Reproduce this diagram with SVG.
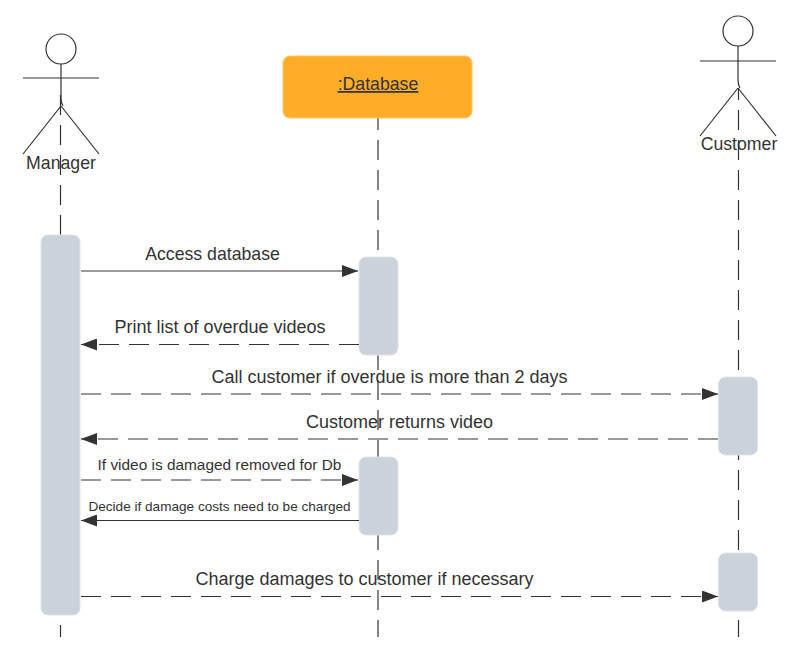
<svg xmlns="http://www.w3.org/2000/svg" width="803" height="665" viewBox="0 0 803 665">
<style>
text{font-family:"Liberation Sans",Arial,sans-serif;fill:#333;text-anchor:middle;font-size:18px}
.n{font-size:17.7px}
.s{font-size:15.4px}
.t{font-size:13.6px}
.actor{fill:none;stroke:#333;stroke-width:1.2}
.head{fill:#fff;stroke:#333;stroke-width:1.2}
.life{fill:none;stroke:#333;stroke-width:1.2;stroke-dasharray:20 10}
.msg{fill:none;stroke:#333;stroke-width:1.2}
.d{stroke-dasharray:20 10}
.act{fill:#ccd2da;stroke:#dfe3e8;stroke-width:1}
</style>
<defs>
<marker id="a" markerUnits="userSpaceOnUse" markerWidth="16" markerHeight="12" refX="16" refY="6" orient="auto"><path d="M0 0L16 6L0 12Z" fill="#333"/></marker>
</defs>
<rect width="803" height="665" fill="#fff"/>
<g id="lifelines">
<path class="life" d="M60.500 95V235"/>
<path class="msg" d="M60.500 625V637"/>
<path class="life" stroke-dashoffset="8" d="M378 118V637"/>
<path class="life" stroke-dashoffset="8" d="M738.500 88V637"/>
</g>
<g id="manager">
<rect class="act" x="41" y="235" width="39" height="380" rx="7"/>
<circle class="head" cx="61" cy="49" r="15"/>
<path class="actor" d="M61 64V98Q61 103 63 106M23 78H99M61 106L23 154M61 106L99 154"/>
<text class="n" x="61" y="169">Manager</text>
</g>
<g id="database">
<rect x="283" y="56" width="189" height="62" rx="7" fill="#ffad29" stroke="#ffc466" stroke-width="1"/>
<text class="n" x="378" y="90" text-decoration="underline">:Database</text>
<rect class="act" x="359" y="257" width="39" height="98" rx="7"/>
<rect class="act" x="359" y="457" width="39" height="78" rx="7"/>
</g>
<g id="customer">
<rect class="act" x="718.500" y="377" width="39" height="78" rx="7"/>
<rect class="act" x="718.500" y="553" width="39" height="58" rx="7"/>
<circle class="head" cx="738" cy="31" r="15"/>
<path class="actor" d="M738 46V80Q738 85 740 88M700 61H776M738 88L700 136M738 88L776 136"/>
<text class="n" x="739" y="150">Customer</text>
</g>
<g id="connectors">
<path class="msg" marker-end="url(#a)" d="M81 271H358"/>
<path class="msg d" marker-end="url(#a)" d="M359 344.500H81"/>
<path class="msg d" marker-end="url(#a)" d="M81 394H718"/>
<path class="msg d" marker-end="url(#a)" d="M718 439H81"/>
<path class="msg d" marker-end="url(#a)" d="M81 480H358"/>
<path class="msg" marker-end="url(#a)" d="M359 520.500H81"/>
<path class="msg d" marker-end="url(#a)" d="M81 596.500H718"/>
</g>
<g id="labels">
<text class="n" x="212.500" y="260">Access database</text>
<text x="220" y="333">Print list of overdue videos</text>
<text x="389.500" y="383">Call customer if overdue is more than 2 days</text>
<text x="399.500" y="428">Customer returns video</text>
<text class="s" x="219.500" y="470">If video is damaged removed for Db</text>
<text class="t" x="219.500" y="511">Decide if damage costs need to be charged</text>
<text x="364.500" y="585">Charge damages to customer if necessary</text>
</g>
</svg>
